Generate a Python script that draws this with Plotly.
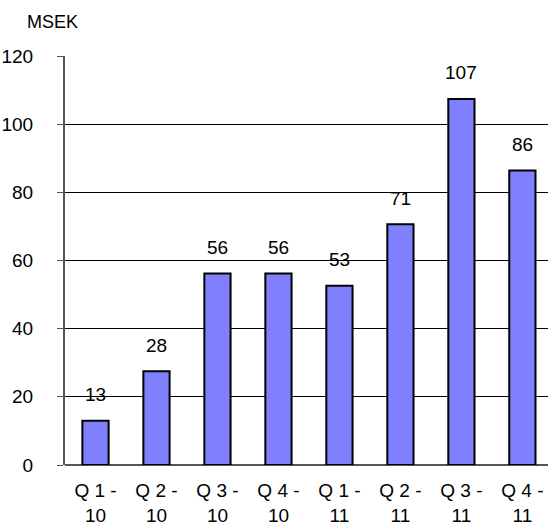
import plotly.graph_objects as go

categories = ["Q 1 -<br>10", "Q 2 -<br>10", "Q 3 -<br>10", "Q 4 -<br>10",
              "Q 1 -<br>11", "Q 2 -<br>11", "Q 3 -<br>11", "Q 4 -<br>11"]
values = [13, 27.5, 56.2, 56.2, 52.6, 70.6, 107.4, 86.4]
labels = ["13", "28", "56", "56", "53", "71", "107", "86"]
y_ticks = [0, 20, 40, 60, 80, 100, 120]

FONT = "Liberation Sans, Arial, sans-serif"
FS = 19

fig = go.Figure()
fig.add_trace(go.Bar(
    x=list(range(len(categories))), y=values,
    marker=dict(color="#8080FF", line=dict(color="black", width=2)),
    width=0.43,
))

for i, (v, t) in enumerate(zip(values, labels)):
    fig.add_annotation(x=i, y=v, text=t, showarrow=False, yanchor="middle",
                       yshift=26, font=dict(size=FS, color="black", family=FONT))

fig.add_annotation(x=(25 - 65) / 483, y=(468 - 22) / 412, xref="paper", yref="paper",
                   xanchor="left", yanchor="middle",
                   text="MSEK", showarrow=False,
                   font=dict(size=18, color="black", family=FONT))

fig.update_layout(
    width=548, height=526,
    margin=dict(l=65, r=0, t=56, b=58),
    paper_bgcolor="white", plot_bgcolor="white",
    showlegend=False,
    font=dict(family=FONT, size=FS, color="black"),
)
fig.update_xaxes(
    range=[-0.5, 7.42], tickmode="array", tickvals=list(range(len(categories))),
    ticktext=categories, showgrid=False, showline=False, zeroline=False,
    tickfont=dict(size=FS, family=FONT), ticklabelstandoff=12, fixedrange=True,
)
fig.update_yaxes(
    range=[0, 120], tickmode="array", tickvals=y_ticks,
    showgrid=True, gridcolor="black", gridwidth=1,
    showline=True, linecolor="#555555", linewidth=2,
    zeroline=True, zerolinecolor="#555555", zerolinewidth=2,
    ticks="outside", ticklen=6, tickcolor="#555555", tickwidth=1,
    tickfont=dict(size=FS, family=FONT), ticklabelstandoff=20,
)

fig.write_html("out.html")
